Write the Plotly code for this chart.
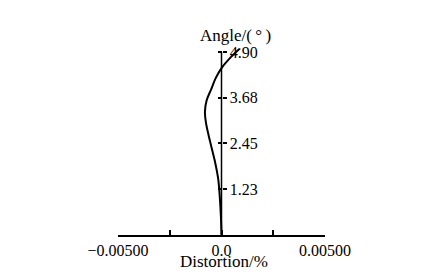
import plotly.graph_objects as go

angle = [0.0, 0.5, 1.0, 1.5, 2.0, 2.5, 3.0, 3.3, 3.6, 3.9, 4.2, 4.47, 4.75, 5.0]
distortion = [0.0, -0.00003, -0.00008, -0.00016, -0.00033, -0.00055, -0.00075,
              -0.00080, -0.00072, -0.00050, -0.00028, 0.0, 0.00043, 0.00090]

x_tickvals = [-0.005, -0.0025, 0.0, 0.0025, 0.005]
x_ticktext = ["−0.00500", "", "0.0", "", "0.00500"]
y_tickvals = [1.23, 2.45, 3.68, 4.90]
y_ticktext = ["1.23", "2.45", "3.68", "4.90"]

FONT = "Liberation Serif"
W, H = 443, 272
x_left, x_right = 118, 325
y_bottom_px = 235
px_per_unit = 37.35
y_max = 5.0
y_top_px = y_bottom_px - y_max * px_per_unit

fig = go.Figure()
fig.add_trace(go.Scatter(x=distortion, y=angle, mode="lines",
                         line=dict(color="black", width=2, shape="spline", smoothing=1.0),
                         showlegend=False, hoverinfo="skip"))

fig.update_layout(
    width=W, height=H, margin=dict(l=0, r=0, t=0, b=0, autoexpand=False),
    paper_bgcolor="white", plot_bgcolor="white",
    font=dict(family=FONT, size=16, color="black"),
    xaxis=dict(domain=[x_left / W, x_right / W], range=[-0.005, 0.005],
               automargin=False,
               showline=True, linecolor="black", linewidth=2,
               ticks="inside", ticklen=5, tickwidth=1.5, tickcolor="black",
               tickvals=x_tickvals, ticktext=x_ticktext,
               tickfont=dict(size=16),
               showgrid=False, zeroline=False),
    yaxis=dict(domain=[(H - y_bottom_px) / H, (H - y_top_px) / H], range=[0, y_max],
               automargin=False,
               anchor="free", position=0.5, side="right",
               showline=False, showgrid=False, zeroline=False,
               ticks="outside", ticklen=4, tickwidth=1.5, tickcolor="black",
               tickvals=y_tickvals, ticktext=y_ticktext),
    yaxis2=dict(domain=[(H - y_bottom_px) / H, (H - y_top_px) / H], range=[0, y_max],
                automargin=False,
                overlaying="y", anchor="free", position=0.5, side="left",
                showline=False, showgrid=False, zeroline=False,
                ticks="outside", ticklen=4, tickwidth=1.5, tickcolor="black",
                tickvals=y_tickvals, showticklabels=False),
)
fig.add_trace(go.Scatter(x=[0], y=[0], yaxis="y2", mode="markers",
                         marker=dict(size=0.1, opacity=0), showlegend=False, hoverinfo="skip"))

fig.add_shape(type="line", xref="x", yref="y", x0=0, x1=0, y0=0, y1=y_tickvals[-1],
              line=dict(color="black", width=1.5), layer="below")
fig.add_annotation(text="Angle/(\u2009°\u2009)", xref="paper", yref="paper",
                   x=235 / W, y=(H - 35) / H, xanchor="center", yanchor="middle",
                   showarrow=False,
                   font=dict(size=17, family=FONT, color="black"))
fig.add_annotation(text="Distortion/%", xref="paper", yref="paper",
                   x=224 / W, y=-1 / H, xanchor="center", yanchor="bottom",
                   showarrow=False,
                   font=dict(size=17, family=FONT, color="black"))

fig.write_html("out.html")
